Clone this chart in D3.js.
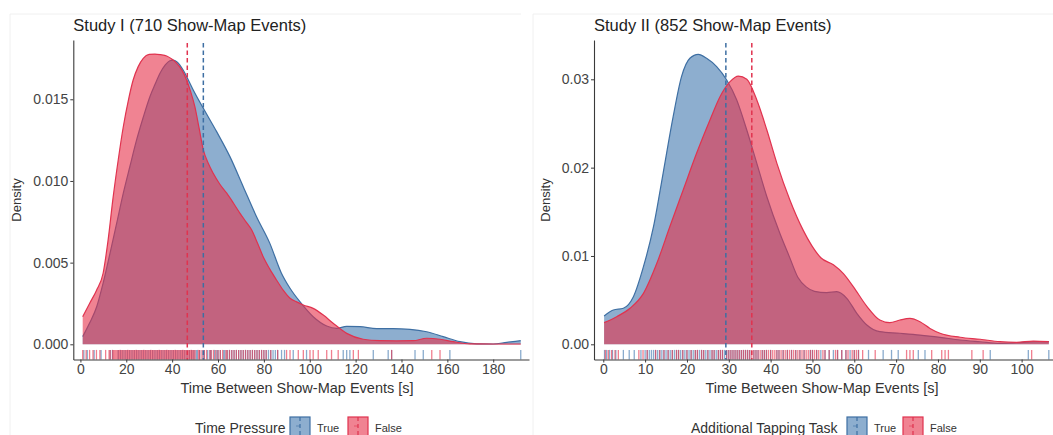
<!DOCTYPE html>
<html><head><meta charset="utf-8">
<script src="https://cdn.jsdelivr.net/npm/d3@7"></script>
<style>body{margin:0;background:#fff;} text{font-family:"Liberation Sans",Arial,Helvetica,sans-serif;}</style>
</head><body><svg id="c" width="1053" height="435"></svg>
<script>
// ---------------- DATA ----------------
const groups = ["True", "False"];
const panelTitles = ["Study I (710 Show-Map Events)", "Study II (852 Show-Map Events)"];
const legendTitles = ["Time Pressure", "Additional Tapping Task"];
const xAxisTitle = "Time Between Show-Map Events [s]";
const yAxisTitle = "Density";

const s1XTicks = [0, 20, 40, 60, 80, 100, 120, 140, 160, 180];
const s1YTicks = [0, 0.005, 0.010, 0.015];
const s2XTicks = [0, 10, 20, 30, 40, 50, 60, 70, 80, 90, 100];
const s2YTicks = [0, 0.01, 0.02, 0.03];

// Study I, Time Pressure = True (blue)
const s1TrueX = [1.0, 4, 7.1, 10, 12.9, 15.8, 18.7, 21.6, 24.5, 27.4, 30.3, 32.5, 34.7, 37, 39.0, 40.5, 42.0, 44.8, 47, 49.2, 53.6, 59.4, 65.2, 71.0, 76.8, 82.6, 87.5, 91.4, 95.7, 101.5, 107.4, 111.7, 116.1, 121.9, 129.2, 136.4, 143.7, 151.0, 158.2, 165.5, 172.8, 180, 185.9, 192];
const s1TrueD = [0.00047, 0.0013, 0.0023, 0.0038, 0.00557, 0.0074, 0.00925, 0.0109, 0.01251, 0.0139, 0.01516, 0.0159, 0.01659, 0.0171, 0.01736, 0.0174, 0.0173, 0.01679, 0.0162, 0.01557, 0.01445, 0.01302, 0.01149, 0.00965, 0.00781, 0.00618, 0.0044, 0.00343, 0.00261, 0.00169, 0.00112, 0.00098, 0.0011, 0.00108, 0.00096, 0.00096, 0.00092, 0.00077, 0.00047, 0.00016, 0.00003, 0.00002, 0.00012, 0.00022];
// Study I, Time Pressure = False (red)
const s1FalseX = [1.0, 4, 7, 9.9, 12, 14.3, 16.5, 18.7, 21, 23.0, 25.2, 27.4, 30, 32.5, 35, 37.6, 40, 42.0, 44.2, 46.3, 48, 49.9, 51.8, 53.6, 55.7, 57.9, 60.8, 63.8, 66.7, 69.6, 72.2, 74.7, 77.2, 79.7, 82.6, 85.5, 88.5, 91.4, 94.3, 97.2, 101.5, 105.9, 110.2, 116.1, 123.3, 130.6, 137.8, 145.1, 151, 156.8, 162.6, 169.9, 180, 192];
const s1FalseD = [0.00169, 0.0025, 0.0033, 0.00435, 0.0063, 0.00904, 0.0113, 0.01332, 0.0150, 0.01618, 0.0170, 0.01751, 0.01775, 0.01777, 0.01773, 0.01765, 0.01745, 0.0172, 0.0168, 0.01618, 0.0155, 0.01455, 0.0132, 0.0119, 0.0111, 0.01047, 0.0098, 0.00925, 0.00865, 0.00802, 0.0075, 0.007, 0.0062, 0.00536, 0.0046, 0.00394, 0.0033, 0.00282, 0.0026, 0.00241, 0.0022, 0.00179, 0.00129, 0.00067, 0.00031, 0.00022, 0.00021, 0.00022, 0.00037, 0.00031, 0.00016, 0.00003, 0.00002, 0.00002];

// Study II, Additional Tapping Task = True (blue)
const s2TrueX = [0.2, 2.4, 4.8, 7.2, 9.6, 12.0, 14.3, 16.7, 18.7, 20.7, 22.7, 24.7, 27.1, 29.5, 31.9, 34.3, 36.7, 39.1, 42.2, 44.5, 46.5, 48.5, 50.5, 53.4, 55.8, 58.2, 60.6, 63.0, 66.1, 70.9, 75.7, 80.5, 85.3, 90.1, 94.8, 98.8, 102.8, 106.5];
const s2TrueD = [0.0032, 0.00388, 0.00408, 0.00539, 0.00879, 0.01331, 0.01936, 0.02577, 0.0303, 0.03238, 0.03283, 0.03238, 0.03143, 0.02992, 0.02766, 0.02426, 0.02049, 0.01671, 0.01257, 0.0099, 0.0076, 0.0065, 0.006, 0.00585, 0.00596, 0.00521, 0.00351, 0.00219, 0.00143, 0.00125, 0.00105, 0.00079, 0.00049, 0.00029, 0.00011, 0.00018, 0.00029, 0.0003];
// Study II, Additional Tapping Task = False (red)
const s2FalseX = [0.2, 3.2, 6.4, 9.6, 12.8, 15.9, 19.1, 22.3, 25.5, 27.9, 30.3, 32.3, 34.3, 36.7, 39.1, 41.5, 44.6, 47.8, 49.8, 52, 55.0, 57.4, 59.8, 63.0, 66.1, 68.5, 70.9, 73.3, 75.7, 78.1, 80.5, 85.3, 90.1, 94.8, 98.8, 102.8, 106.5];
const s2FalseD = [0.00245, 0.00313, 0.00408, 0.00577, 0.00917, 0.01331, 0.01747, 0.02162, 0.02539, 0.02803, 0.02973, 0.03037, 0.03, 0.02766, 0.02426, 0.02049, 0.01634, 0.0129, 0.0112, 0.0098, 0.009, 0.008, 0.0065, 0.0043, 0.00275, 0.00245, 0.00275, 0.00294, 0.00256, 0.0018, 0.00125, 0.0008, 0.00057, 0.0003, 0.00023, 0.00037, 0.0003];

// group means (dashed lines)
const s1Means = [53.6, 46.6];
const s2Means = [29.3, 35.5];

// rug observations (read approximately)
const s1TrueRug = [1.5, 3, 6, 9, 13, 14, 16.5, 17.5, 18.5, 19.5, 20.5, 21.5, 22.5, 23.5, 24.5, 25.5, 26.5, 27.5, 28.5, 29.5, 30.5, 31.5, 32.5, 33.5, 34.5, 35.5, 36.5, 37.5, 38.5, 39.5, 40.5, 41.5, 42.5, 43.5, 44.5, 45.5, 46.5, 47.5, 48.5, 49.5, 50.5, 51, 52, 53.5, 54, 55.5, 56.5, 57, 58.5, 59.5, 60, 61, 62.5, 63, 64, 65, 66, 67, 68, 69, 70, 71, 72, 73, 74, 75, 76, 77, 78, 79, 80, 81, 82, 83, 84, 85, 86, 87.7, 89, 92.8, 98.6, 114.6, 116.1, 117.5, 127.7, 134.2, 135.7, 145.9, 149.5, 161.1, 192];
const s1FalseRug = [1, 2.5, 4, 5.5, 7, 8.5, 11, 12.5, 13, 14, 14.5, 15, 15.5, 16, 16.5, 17, 17.5, 18, 18.5, 19, 19.5, 20, 20.5, 21, 21.5, 22, 22.5, 23, 23.5, 24, 24.5, 25, 25.5, 26, 26.5, 27, 27.5, 28, 28.5, 29, 29.5, 30, 30.5, 31, 31.5, 32, 32.5, 33, 33.5, 34, 34.5, 35, 35.5, 36, 36.5, 37, 37.5, 38, 38.5, 39, 39.5, 40, 40.5, 41, 41.5, 42, 42.5, 43, 43.5, 44, 44.5, 45, 45.5, 46, 46.5, 47, 47.5, 48, 48.5, 49, 49.5, 50, 51.5, 52, 53, 54, 55, 56.5, 57, 58, 59, 60, 61, 62, 63.5, 64, 65, 66, 67, 68, 69, 70, 71, 72, 73, 74, 75, 76, 77, 78, 79, 80, 81, 83, 86, 89.9, 91.4, 95, 97.2, 100.1, 101.5, 103.7, 107.4, 109.5, 112.4, 119, 121.2, 135.7, 153.2, 156.8];
const s2TrueRug = [0.3, 0.8, 1.5, 2.2, 3, 4.8, 6.2, 7.4, 9, 10, 10.5, 11, 11.5, 12, 12.5, 13, 13.5, 14, 14.5, 15, 15.5, 16, 16.5, 17, 17.5, 18, 18.5, 19, 19.5, 20, 20.5, 21, 21.5, 22, 22.5, 23, 23.5, 24, 24.5, 25, 25.5, 26, 26.5, 27, 27.5, 28, 28.5, 29, 29.5, 30, 30.5, 31, 31.5, 32, 32.5, 33, 33.5, 34, 34.5, 35, 36, 36.5, 37, 38, 38.5, 39, 40, 41.5, 42, 43, 44, 45, 46, 47, 48, 49.5, 50, 51, 52, 53, 54, 55, 56, 57, 58, 59, 60, 61, 63.4, 66.9, 68.9, 70.5, 75.3, 76.9, 92.5, 101.6, 106.5];
const s2FalseRug = [0.5, 1.2, 2, 2.8, 3.6, 8.5, 9.5, 10.5, 12.5, 13.5, 14.5, 15.5, 16.5, 17.5, 18, 19, 20, 21, 22, 22.5, 23.5, 24, 25, 26, 26.5, 27.5, 28, 28.5, 29.5, 30, 30.5, 31, 31.5, 32, 32.5, 33, 33.5, 34, 34.5, 35, 35.5, 36, 36.5, 37, 37.5, 38, 38.5, 39, 39.5, 40, 40.5, 41, 41.5, 42, 42.5, 43, 43.5, 44, 44.5, 45, 45.5, 46, 46.5, 47, 47.5, 48, 48.5, 49, 49.5, 50, 50.5, 51, 51.5, 52.5, 53, 54, 55.5, 56, 57, 58, 58.5, 59.5, 60, 60.5, 61, 62, 65, 72.5, 73.3, 74.1, 78.5, 80.9, 81.7, 82.5, 88.1, 90.8, 102.4];

// ---------------- STYLE ----------------
const fillCol = {True: "#4178AF", False: "#E6304A"};
const lineCol = {True: "#3E6FA3", False: "#E0334F"};
const fillOpacity = 0.6;

const svg = d3.select("#c");

// faint figure frame
svg.append("path").attr("d", "M10,435V14H521").attr("fill", "none").attr("stroke", "#f0f0f0");
svg.append("path").attr("d", "M533,435V14H1053").attr("fill", "none").attr("stroke", "#f0f0f0");

function drawPanel(cfg) {
  const x = d3.scaleLinear().domain(cfg.xDomain).range([cfg.left, cfg.right]);
  const y = d3.scaleLinear().domain(cfg.yDomain).range([cfg.bottom, cfg.top]);
  const g = svg.append("g");

  // densities: blue first, red on top
  cfg.series.forEach(s => {
    const pts = s.x.map((v, i) => [v, s.d[i]]);
    const area = d3.area().x(p => x(p[0])).y0(y(0)).y1(p => y(p[1])).curve(d3.curveMonotoneX);
    const line = d3.line().x(p => x(p[0])).y(p => y(p[1])).curve(d3.curveMonotoneX);
    g.append("path").attr("d", area(pts)).attr("fill", fillCol[s.group]).attr("fill-opacity", fillOpacity);
    g.append("path").attr("d", line(pts)).attr("fill", "none").attr("stroke", lineCol[s.group]).attr("stroke-width", 1.2);
  });

  // rugs
  const rugLen = (cfg.bottom - cfg.top) * 0.03;
  cfg.rugs.forEach(r => {
    g.append("g").selectAll("line").data(r.values).join("line")
      .attr("x1", d => x(d)).attr("x2", d => x(d))
      .attr("y1", cfg.bottom).attr("y2", cfg.bottom - rugLen)
      .attr("stroke", fillCol[r.group]).attr("stroke-opacity", 0.62).attr("stroke-width", 1.3);
  });

  // mean lines
  cfg.means.forEach((m, i) => {
    g.append("line").attr("x1", x(m)).attr("x2", x(m)).attr("y1", cfg.top + 3).attr("y2", cfg.bottom)
      .attr("stroke", lineCol[groups[i]]).attr("stroke-width", 1.5).attr("stroke-dasharray", "4.5,3");
  });

  // axes
  const xa = g.append("g").attr("transform", `translate(0,${cfg.bottom})`)
    .call(d3.axisBottom(x).tickValues(cfg.xTicks).tickSize(3).tickPadding(2).tickSizeOuter(0));
  const ya = g.append("g").attr("transform", `translate(${cfg.left},0)`)
    .call(d3.axisLeft(y).tickValues(cfg.yTicks).tickFormat(d3.format(cfg.yFmt)).tickSize(3).tickPadding(2).tickSizeOuter(0));
  [xa, ya].forEach(a => {
    a.select(".domain").attr("stroke", "#3a3a3a").attr("stroke-width", 1.1);
    a.selectAll(".tick line").attr("stroke", "#3a3a3a");
    a.selectAll(".tick text").attr("fill", "#444").style("font-size", "14px");
  });

  // titles
  g.append("text").attr("x", cfg.left).attr("y", 31).attr("fill", "#222").style("font-size", "16.5px").text(cfg.title);
  g.append("text").attr("x", cfg.xtCenter).attr("y", 393).attr("text-anchor", "middle")
    .attr("fill", "#333").style("font-size", "14.5px").text(xAxisTitle);
  g.append("text").attr("transform", `translate(${cfg.ylabX},200) rotate(-90)`).attr("text-anchor", "middle")
    .attr("fill", "#333").style("font-size", "13px").text(yAxisTitle);

  // legend
  const lg = g.append("g");
  lg.append("text").attr("x", cfg.legX).attr("y", 433).attr("fill", "#333").style("font-size", "14px").text(cfg.legendTitle);
  groups.forEach((gr, i) => {
    const kx = cfg.keyX[i];
    lg.append("rect").attr("x", kx).attr("y", 417).attr("width", 20).attr("height", 19)
      .attr("fill", fillCol[gr]).attr("fill-opacity", fillOpacity).attr("stroke", lineCol[gr]).attr("stroke-width", 1.2);
    lg.append("line").attr("x1", kx + 10).attr("x2", kx + 10).attr("y1", 417).attr("y2", 436)
      .attr("stroke", lineCol[gr]).attr("stroke-width", 1.2).attr("stroke-dasharray", "4,3");
    lg.append("line").attr("x1", kx + 6).attr("x2", kx + 10).attr("y1", 426).attr("y2", 426)
      .attr("stroke", lineCol[gr]).attr("stroke-opacity", 0.6).attr("stroke-width", 1);
    lg.append("text").attr("x", kx + 27).attr("y", 432).attr("fill", "#333").style("font-size", "11px").text(gr);
  });
}

drawPanel({
  left: 73.3, right: 529, top: 40, bottom: 359.5,
  xDomain: [-3.1, 195.6], yDomain: [-0.00093, 0.01863],
  series: [{group: "True", x: s1TrueX, d: s1TrueD}, {group: "False", x: s1FalseX, d: s1FalseD}],
  rugs: [{group: "True", values: s1TrueRug}, {group: "False", values: s1FalseRug}],
  means: s1Means, xTicks: s1XTicks, yTicks: s1YTicks, yFmt: ".3f",
  title: panelTitles[0], legendTitle: legendTitles[0], legX: 195, keyX: [290, 348],
  ylabX: 21, xtCenter: 297
});
drawPanel({
  left: 594, right: 1053, top: 40, bottom: 359.5,
  xDomain: [-2.22, 107.5], yDomain: [-0.00172, 0.03445],
  series: [{group: "True", x: s2TrueX, d: s2TrueD}, {group: "False", x: s2FalseX, d: s2FalseD}],
  rugs: [{group: "True", values: s2TrueRug}, {group: "False", values: s2FalseRug}],
  means: s2Means, xTicks: s2XTicks, yTicks: s2YTicks, yFmt: ".2f",
  title: panelTitles[1], legendTitle: legendTitles[1], legX: 691, keyX: [847, 903],
  ylabX: 550, xtCenter: 822
});
</script></body></html>
